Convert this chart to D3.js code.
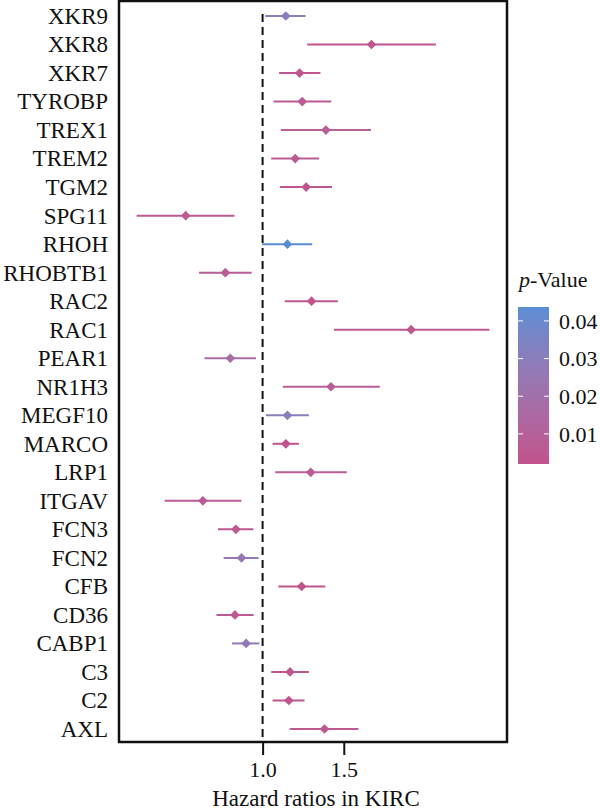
<!DOCTYPE html>
<html>
<head>
<meta charset="utf-8">
<script src="https://cdn.jsdelivr.net/npm/d3@7"></script>
<style>
  body { margin: 0; background: #fff; }
  svg text { font-family: "Liberation Serif", "Times New Roman", Tinos, "Noto Serif", "DejaVu Serif", FreeSerif, serif; fill: #111; }
</style>
</head>
<body>
<div id="container"></div>
<script>
/* DATA */
const genes = ["XKR9", "XKR8", "XKR7", "TYROBP", "TREX1", "TREM2", "TGM2", "SPG11", "RHOH", "RHOBTB1",
  "RAC2", "RAC1", "PEAR1", "NR1H3", "MEGF10", "MARCO", "LRP1", "ITGAV", "FCN3", "FCN2",
  "CFB", "CD36", "CABP1", "C3", "C2", "AXL"];
const hr = [1.123, 1.723, 1.203, 1.219, 1.372, 1.177, 1.243, 0.681, 1.132, 0.830,
  1.277, 2.100, 0.851, 1.407, 1.132, 1.123, 1.272, 0.742, 0.875, 0.900,
  1.215, 0.871, 0.921, 1.147, 1.140, 1.362];
const lower = [1.013, 1.249, 1.086, 1.056, 1.095, 1.044, 1.090, 0.533, 0.997, 0.728,
  1.117, 1.428, 0.748, 1.106, 1.017, 1.051, 1.065, 0.613, 0.800, 0.823,
  1.082, 0.794, 0.858, 1.044, 1.051, 1.145];
const upper = [1.239, 2.376, 1.335, 1.409, 1.718, 1.326, 1.414, 0.869, 1.281, 0.947,
  1.456, 3.104, 0.968, 1.796, 1.260, 1.199, 1.523, 0.899, 0.955, 0.980,
  1.368, 0.956, 0.984, 1.260, 1.233, 1.613];
const pval = [0.031, 0.004, 0.003, 0.006, 0.009, 0.007, 0.004, 0.006, 0.0437, 0.008,
  0.004, 0.005, 0.017, 0.008, 0.030, 0.002, 0.008, 0.006, 0.005, 0.025,
  0.004, 0.006, 0.027, 0.003, 0.003, 0.005];
const xTicks = [1.0, 1.5];
const legendTicks = [0.01, 0.02, 0.03, 0.04];

/* CONSTANTS */
const width = 600, height = 811;
const margin = { top: 1, right: 93, bottom: 69, left: 119 };

const svg = d3.select("#container").append("svg")
  .attr("width", width)
  .attr("height", height);

// x scale - log, with 5% expansion of the data range
const lo = Math.log(d3.min(lower)), hi = Math.log(d3.max(upper));
const pad = (hi - lo) * 0.05;
const xScale = d3.scaleLog()
  .domain([Math.exp(lo - pad), Math.exp(hi + pad)])
  .range([margin.left, width - margin.right]);

// y scale - one row per gene
const yScale = d3.scalePoint()
  .domain(genes)
  .range([margin.top + 15, height - margin.bottom - 13]);

const color = d3.scaleLinear()
  .domain([d3.min(pval), 0.0437])
  .range(["#c2528c", "#5a8ed4"])
  .interpolate(d3.interpolateLab);

const data = genes.map((g, i) => ({ gene: g, hr: hr[i], lo: lower[i], hi: upper[i], p: pval[i] }));

// reference line at HR = 1
svg.append("line")
  .attr("x1", xScale(1)).attr("x2", xScale(1))
  .attr("y1", yScale(genes[0]) - 2)
  .attr("y2", height - margin.bottom)
  .attr("stroke", "#111")
  .attr("stroke-width", 2)
  .attr("stroke-dasharray", "8,5");

// confidence intervals
svg.selectAll(".ci")
  .data(data)
  .join("line")
  .attr("class", "ci")
  .attr("x1", d => xScale(d.lo))
  .attr("x2", d => xScale(d.hi))
  .attr("y1", d => yScale(d.gene))
  .attr("y2", d => yScale(d.gene))
  .attr("stroke", d => color(d.p))
  .attr("stroke-width", 2);

// diamonds
svg.selectAll(".pt")
  .data(data)
  .join("path")
  .attr("class", "pt")
  .attr("d", d3.symbol(d3.symbolDiamond2, 60))
  .attr("transform", d => `translate(${xScale(d.hr)},${yScale(d.gene)})`)
  .attr("fill", d => color(d.p));

// panel border
svg.append("rect")
  .attr("x", margin.left)
  .attr("y", margin.top)
  .attr("width", width - margin.right - margin.left)
  .attr("height", height - margin.bottom - margin.top)
  .attr("fill", "none")
  .attr("stroke", "#111")
  .attr("stroke-width", 2.5);

// y labels
svg.append("g")
  .attr("transform", `translate(${margin.left},0)`)
  .call(d3.axisLeft(yScale).tickSize(0).tickPadding(11))
  .call(g => g.select(".domain").remove())
  .attr("font-family", null)
  .selectAll("text")
  .attr("font-size", 23);

// x axis
svg.append("g")
  .attr("transform", `translate(0,${height - margin.bottom})`)
  .call(d3.axisBottom(xScale).tickValues(xTicks).tickFormat(d3.format(".1f")).tickSize(13).tickPadding(6))
  .call(g => g.select(".domain").remove())
  .call(g => g.selectAll("line").attr("stroke", "#111").attr("stroke-width", 2))
  .attr("font-family", null)
  .selectAll("text")
  .attr("font-size", 22);

svg.append("text")
  .attr("x", (margin.left + width - margin.right) / 2 + 3)
  .attr("y", height - 5)
  .attr("text-anchor", "middle")
  .attr("font-size", 23)
  .text("Hazard ratios in KIRC");

// legend
const legX = 518, legY = 307, legW = 31, legH = 157;
const legScale = d3.scaleLinear()
  .domain([d3.min(pval), 0.0437])
  .range([legY + legH, legY]);

const defs = svg.append("defs");
const grad = defs.append("linearGradient")
  .attr("id", "pgrad")
  .attr("x1", 0).attr("y1", 1).attr("x2", 0).attr("y2", 0);
d3.range(0, 1.01, 0.1).forEach(t => {
  grad.append("stop")
    .attr("offset", t)
    .attr("stop-color", color(d3.min(pval) + t * (0.0437 - d3.min(pval))));
});

svg.append("rect")
  .attr("x", legX).attr("y", legY)
  .attr("width", legW).attr("height", legH)
  .attr("fill", "url(#pgrad)");

legendTicks.forEach(v => {
  const y = legScale(v);
  svg.append("line").attr("x1", legX).attr("x2", legX + 5).attr("y1", y).attr("y2", y)
    .attr("stroke", "#fff").attr("stroke-width", 1);
  svg.append("line").attr("x1", legX + legW - 5).attr("x2", legX + legW).attr("y1", y).attr("y2", y)
    .attr("stroke", "#fff").attr("stroke-width", 1);
  svg.append("text")
    .attr("x", legX + legW + 10)
    .attr("y", y)
    .attr("dy", "0.35em")
    .attr("font-size", 22)
    .text(d3.format(".2f")(v));
});

const title = svg.append("text")
  .attr("x", 519)
  .attr("y", 287)
  .attr("font-size", 22);
title.append("tspan").attr("font-style", "italic").text("p");
title.append("tspan").text("-Value");
</script>
</body>
</html>
